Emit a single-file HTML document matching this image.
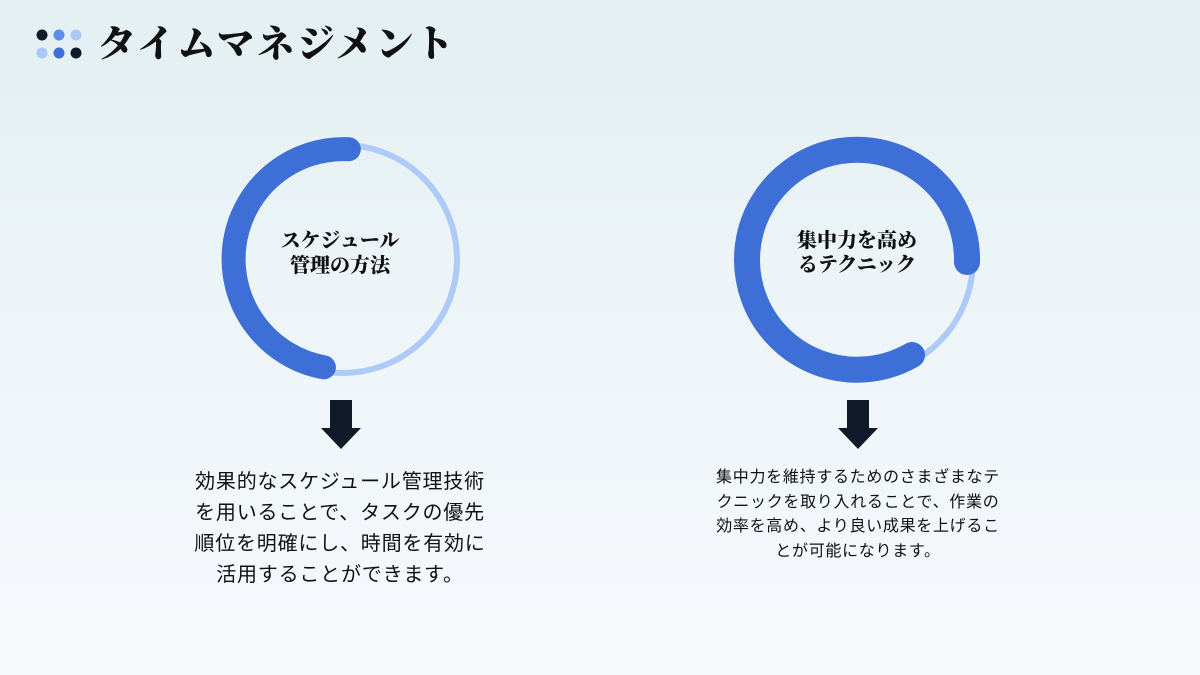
<!DOCTYPE html>
<html><head><meta charset="utf-8"><style>
html,body{margin:0;padding:0}
body{width:1200px;height:675px;overflow:hidden;position:relative;background:linear-gradient(180deg,#e3eff2 0%,#eef5f8 50%,#f7f9fd 100%);font-family:"Liberation Sans","Noto Sans CJK JP",sans-serif;color:#111}
.t{position:absolute;text-align:center;white-space:nowrap}
</style></head><body>
<svg width="1200" height="675" style="position:absolute;left:0;top:0">
<circle cx="42" cy="35" r="5.5" fill="#0f1a2a"/><circle cx="59" cy="35" r="5.5" fill="#5b8ee8"/><circle cx="76" cy="35" r="5.5" fill="#a9c8f5"/>
<circle cx="42" cy="53" r="5.5" fill="#a9c8f5"/><circle cx="59" cy="53" r="5.5" fill="#3f6fd6"/><circle cx="76" cy="53" r="5.5" fill="#0f1a2a"/>
<!-- circle 1 -->
<circle cx="343" cy="259" r="114" fill="none" stroke="#aecbf7" stroke-width="6"/>
<path d="M 348.8 149.2 A 110 110 0 0 0 323.9 367.3" fill="none" stroke="#3d6fd6" stroke-width="24" stroke-linecap="round"/>
<!-- circle 2 -->
<circle cx="857" cy="260" r="116" fill="none" stroke="#aecbf7" stroke-width="6"/>
<path d="M 967 262 A 110 110 0 1 0 912 355" fill="none" stroke="#3d6fd6" stroke-width="26" stroke-linecap="round"/>
<!-- arrows -->
<polygon points="330,400 352,400 352,428 361,428 341,449 321,428 330,428" fill="#111a2a"/>
<polygon points="847,400 869,400 869,428 878,428 858,449 838,428 847,428" fill="#111a2a"/>
</svg>
<div class="t" style="left:98px;top:20px;font-family:'Liberation Serif','Noto Serif CJK JP',serif;font-weight:900;font-size:38px;letter-spacing:2px;line-height:50px">タイムマネジメント</div>
<div class="t" style="left:240px;top:229px;width:200px;font-family:'Liberation Serif','Noto Serif CJK JP',serif;font-weight:900;font-size:20px;line-height:25px">スケジュール<br>管理の方法</div>
<div class="t" style="left:757px;top:229px;width:200px;font-family:'Liberation Serif','Noto Serif CJK JP',serif;font-weight:900;font-size:20px;line-height:24px">集中力を高め<br>るテクニック</div>
<div class="t" style="left:140px;top:467px;width:400px;font-size:20px;line-height:31px;letter-spacing:0.8px">効果的なスケジュール管理技術<br>を用いることで、タスクの優先<br>順位を明確にし、時間を有効に<br>活用することができます。</div>
<div class="t" style="left:658px;top:466px;width:400px;font-size:16px;line-height:24.5px;letter-spacing:0.7px">集中力を維持するためのさまざまなテ<br>クニックを取り入れることで、作業の<br>効率を高め、より良い成果を上げるこ<br>とが可能になります。</div>
</body></html>
